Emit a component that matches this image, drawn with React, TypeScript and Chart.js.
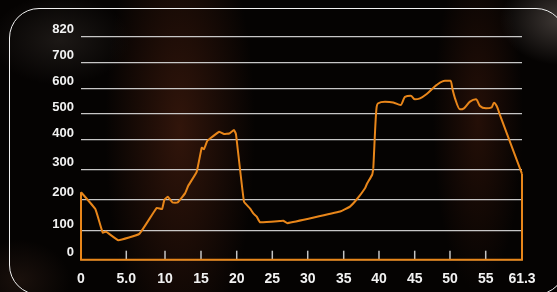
import React, { useEffect, useRef } from 'react';
import { Chart, registerables, LinearScale } from 'chart.js';

// ---- data ----
const X_TICKS = [0, 5, 10, 15, 20, 25, 30, 35, 40, 45, 50, 55, 61.3];
const X_LABELS = ['0', '5.0', '10', '15', '20', '25', '30', '35', '40', '45', '50', '55', '61.3'];
const Y_TICKS = [0, 100, 200, 300, 400, 500, 600, 700, 820];
const Y_LABELS = ['0', '100', '200', '300', '400', '500', '600', '700', '820'];

// first stretch of the profile (to the foot of the big climb)
const DIST_A = [
  0, 1.58, 2.4, 2.76, 4.12, 6.68, 8.93, 9.61, 9.91, 10.38, 11.04, 11.74, 12.78, 13.24, 14.4,
  15.1, 15.42, 15.88, 16.26, 17.56, 18.22, 18.96, 19.62, 19.9, 21.02, 21.87, 22.33, 22.81,
  23.27, 26.09, 26.55, 27.15, 34.51, 35.89, 36.95, 38.02, 38.3, 39.05, 39.19,
];
const ELEV_A = [
  225, 170, 94, 98, 68, 90, 174, 170, 199, 210, 191, 191, 221, 247, 293,
  374, 369, 397, 406, 432, 423, 425, 438, 422, 194, 172, 156, 146,
  128, 132, 133, 125, 162, 178, 204, 238, 253, 284, 303,
];
// second stretch (the high ground to the finish)
const DIST_B = [
  39.19, 39.67, 39.9, 40.84, 42.0, 43.04, 43.64, 44.44, 45.04, 45.75, 46.7, 48.12, 49.29, 50.1,
  50.38, 50.7, 51.4, 51.96, 52.8, 53.64, 54.2, 55.05, 56.04, 56.44, 56.91, 57.48, 61.3,
];
const ELEV_B = [
  303, 528, 542, 548, 545, 535, 567, 571, 557, 561, 578, 613, 629, 629,
  593, 561, 518, 522, 548, 557, 531, 522, 526, 544, 531, 496, 286,
];

// ---- axis layout: where each tick sits along the plot (0..1) ----
const X_TICK_FRAC = [0, 0.1027, 0.1905, 0.2721, 0.3531, 0.4338, 0.5141, 0.5957, 0.6757, 0.7567, 0.8367, 0.9177, 1];
const Y_TICK_FRAC = [0, 0.1287, 0.2691, 0.4036, 0.5368, 0.6534, 0.7686, 0.8852, 1];

function makePiecewiseScale(id: string, values: number[], fracs: number[]) {
  return class extends LinearScale {
    static id = id;
    static defaults = LinearScale.defaults;
    getPixelForValue(v: any) {
      if (v === null || v === undefined || isNaN(v)) return NaN;
      let i = 0;
      while (i < values.length - 2 && v > values[i + 1]) i++;
      const t = (v - values[i]) / (values[i + 1] - values[i]);
      return this.getPixelForDecimal(fracs[i] + t * (fracs[i + 1] - fracs[i]));
    }
    getValueForPixel(p: number) {
      const d = this.getDecimalForPixel(p);
      let i = 0;
      while (i < fracs.length - 2 && d > fracs[i + 1]) i++;
      const t = (d - fracs[i]) / (fracs[i + 1] - fracs[i]);
      return values[i] + t * (values[i + 1] - values[i]);
    }
  };
}

const PwX = makePiecewiseScale('pwx', X_TICKS, X_TICK_FRAC);
const PwY = makePiecewiseScale('pwy', Y_TICKS, Y_TICK_FRAC);

Chart.register(...registerables, PwX as any, PwY as any);

const ORANGE = '#e8861a';

const tickMarks = {
  id: 'tickMarks',
  beforeDatasetsDraw(chart: any) {
    const xs = chart.scales.x;
    const bottom = chart.chartArea.bottom;
    const ctx = chart.ctx;
    ctx.save();
    ctx.strokeStyle = '#c4c4c4';
    ctx.lineWidth = 1.5;
    xs.ticks.forEach((t: any, i: number) => {
      if (i === 0 || i === xs.ticks.length - 1) return;
      const px = xs.getPixelForValue(t.value);
      ctx.beginPath();
      ctx.moveTo(px, bottom - 9);
      ctx.lineTo(px, bottom);
      ctx.stroke();
    });
    ctx.restore();
  },
};

export default function App() {
  const ref = useRef<HTMLCanvasElement | null>(null);

  useEffect(() => {
    if (!ref.current) return;
    const font = { family: '"Liberation Sans", Arial, sans-serif', weight: 'bold' as const };
    const lastB = DIST_B.length - 1;
    const lineBase = {
      borderColor: ORANGE,
      borderWidth: 2,
      pointRadius: 0,
      fill: false,
      clip: false as any,
    };
    const chart = new Chart(ref.current, {
      type: 'line',
      data: {
        datasets: [
          {
            ...lineBase,
            data: DIST_A.map((d, i) => ({ x: d, y: ELEV_A[i] })),
            tension: 0.1,
          },
          {
            ...lineBase,
            data: DIST_B.map((d, i) => ({ x: d, y: ELEV_B[i] })),
            cubicInterpolationMode: 'monotone',
          },
          {
            ...lineBase,
            data: [
              { x: DIST_A[0], y: ELEV_A[0] },
              { x: DIST_A[0], y: 0 },
              { x: DIST_B[lastB], y: 0 },
              { x: DIST_B[lastB], y: ELEV_B[lastB] },
            ],
            tension: 0,
          },
        ],
      },
      options: {
        animation: false,
        responsive: false,
        events: [],
        layout: { padding: { top: 36.7, right: 35, bottom: 0, left: 0 } },
        plugins: { legend: { display: false }, tooltip: { enabled: false } },
        scales: {
          x: {
            type: 'pwx' as any,
            min: 0,
            max: 61.3,
            afterBuildTicks: (s: any) => {
              s.ticks = X_TICKS.map((v) => ({ value: v }));
            },
            afterFit: (s: any) => {
              s.height = 32.3;
            },
            grid: { display: false, drawTicks: false },
            border: { display: false },
            ticks: {
              autoSkip: false,
              maxRotation: 0,
              padding: 11,
              color: '#f2f2f2',
              font: { ...font, size: 14 },
              callback: (_v: any, i: number) => X_LABELS[i],
            },
          },
          y: {
            type: 'pwy' as any,
            min: 0,
            max: 820,
            afterBuildTicks: (s: any) => {
              s.ticks = Y_TICKS.map((v) => ({ value: v }));
            },
            afterFit: (s: any) => {
              s.width = 81;
            },
            grid: { color: 'rgba(215,215,215,0.92)', lineWidth: 1.3, drawTicks: false },
            border: { display: false },
            ticks: {
              padding: 7,
              labelOffset: -7,
              color: '#f2f2f2',
              font: { ...font, size: 13 },
              callback: (_v: any, i: number) => Y_LABELS[i],
            },
          },
        },
      } as any,
      plugins: [tickMarks],
    });
    return () => chart.destroy();
  }, []);

  return (
    <div
      style={{
        position: 'fixed',
        left: 0,
        top: 0,
        width: 557,
        height: 292,
        overflow: 'hidden',
        background:
          'radial-gradient(ellipse 60px 45px at 560px 20px, rgba(110,100,95,0.55), rgba(0,0,0,0)),' +
          'radial-gradient(ellipse 75px 230px at 180px 130px, rgba(52,22,11,0.95), rgba(0,0,0,0)),' +
          'radial-gradient(ellipse 45px 170px at 478px 120px, rgba(42,17,8,0.85), rgba(0,0,0,0)),' +
          'radial-gradient(ellipse 70px 45px at 60px 40px, rgba(38,33,30,0.7), rgba(0,0,0,0)),' +
          'radial-gradient(ellipse 50px 40px at 20px 280px, rgba(40,25,18,0.6), rgba(0,0,0,0)),' +
          '#050302',
      }}
    >
      <div
        style={{
          position: 'absolute',
          left: 9,
          top: 7.5,
          width: 557,
          height: 287,
          boxSizing: 'border-box',
          border: '1.6px solid #f0f0f0',
          borderRadius: 30,
        }}
      />
      <canvas ref={ref} width={557} height={292} style={{ position: 'absolute', left: 0, top: 0 }} />
    </div>
  );
}
